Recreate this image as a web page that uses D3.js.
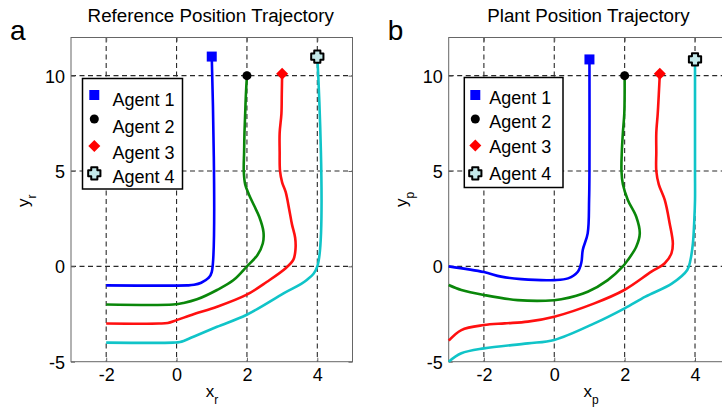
<!DOCTYPE html>
<html>
<head>
<meta charset="utf-8">
<script src="https://cdn.jsdelivr.net/npm/d3@7"></script>
<style>
  body { margin: 0; background: #fff; }
  svg { display: block; font-family: "Liberation Sans", Arial, sans-serif; }
  .grid-line { stroke: #2a2a2a; stroke-width: 1.1; stroke-dasharray: 5,3.5; fill: none; }
  .frame { stroke: #666; stroke-width: 1; fill: none; }
  .tick line { stroke: #666; }
  .tick text { font-size: 18px; fill: #000; }
  .traj { fill: none; stroke-width: 2.6; stroke-linejoin: round; }
</style>
</head>
<body>
<svg id="container"></svg>
<script>
// Two trajectory panels: reference (a) and plant (b)

var agents = ["Agent 1", "Agent 2", "Agent 3", "Agent 4"]
  , xTicks = [-2, 0, 2, 4]
  , yTicks = [-5, 0, 5, 10]
  , xDomain = [-3, 5]
  , yDomain = [-5, 12]
  ;

// Reference trajectories, [x, y] (marker end first)
var refAgent1 = [[1, 11], [1, -0.3], [0.9, -0.62], [0.7, -0.86], [0.5, -0.97], [0.3, -1], [-2, -1]];
var refAgent2 = [[2, 10], [1.97, 9], [1.95, 8], [1.93, 7], [1.92, 6], [1.91, 5], [1.95, 4.3], [2.05, 3.8],
                 [2.2, 3.2], [2.35, 2.6], [2.47, 1.8], [2.45, 1.2], [2.3, 0.6], [2.0, 0], [1.62, -0.72],
                 [1.15, -1.24], [0.58, -1.73], [0.2, -1.92], [-0.1, -2], [-2, -2]];
var refAgent3 = [[3, 10.1], [2.99, 9], [2.98, 8], [2.93, 7], [2.93, 6], [2.94, 5], [3.0, 4.4], [3.1, 3.9],
                 [3.2, 3.0], [3.28, 2.2], [3.37, 1.5], [3.38, 0.9], [3.32, 0.35], [3.1, -0.1], [2.57, -0.81],
                 [1.98, -1.5], [1.15, -2.12], [0.5, -2.5], [0, -2.82], [-0.25, -2.97], [-0.5, -3], [-2, -3]];
var refAgent4 = [[4, 11], [4, 0], [3.7, -0.72], [3.04, -1.42], [1.98, -2.55], [1.15, -3.17], [0.48, -3.69],
                 [0.1, -3.97], [-0.1, -4], [-2, -4]];

// Plant trajectories
var plantAgent1 = [[1, 10.85], [1, 5], [0.99, 3.5], [0.95, 1.73], [0.81, 0.86], [0.77, 0.2], [0.67, -0.28],
                   [0.39, -0.63], [0, -0.72], [-0.94, -0.67], [-1.51, -0.54], [-2, -0.3], [-3, 0]];
var plantAgent2 = [[2, 10], [2, 9], [1.99, 8], [1.95, 7], [1.92, 6], [1.91, 5], [1.95, 4.3], [2.09, 3.48],
                   [2.33, 2.6], [2.43, 1.73], [2.33, 1.03], [2.09, 0.33], [1.95, 0], [1.52, -0.72],
                   [0.95, -1.33], [0.2, -1.73], [0, -1.78], [-1.04, -1.77], [-2, -1.5], [-2.64, -1.24], [-3, -0.98]];
var plantAgent3 = [[3, 10.1], [2.97, 9], [2.94, 8], [2.9, 7], [2.9, 6], [2.9, 5], [2.97, 4.3], [3.14, 3.48],
                   [3.28, 2.25], [3.37, 1.2], [3.33, 0.68], [3.14, 0.16], [2.76, -0.28], [1.99, -1.24],
                   [1.14, -1.94], [0, -2.64], [-0.75, -2.9], [-1.41, -2.99], [-2, -3.08], [-2.64, -3.34], [-3, -3.9]];
var plantAgent4 = [[4, 10.85], [4, 5], [4, 3.48], [3.98, 2.43], [3.94, 1.2], [3.87, 0.33], [3.78, -0.19],
                   [3.35, -0.89], [2.59, -1.59], [2, -2.2], [1.14, -2.99], [0, -3.86], [-0.75, -4.04],
                   [-2, -4.3], [-2.64, -4.56], [-3, -5]];

var lineColors = ["#0000ff", "#0a870a", "#ff1010", "#10c4c8"];

// Plus-shaped marker for agent 4
var plusSymbol = {
  draw: function (ctx, size) {
    var a = Math.sqrt(size) / 2, b = a * 0.5;
    ctx.moveTo(-b, -a); ctx.lineTo(b, -a); ctx.lineTo(b, -b); ctx.lineTo(a, -b);
    ctx.lineTo(a, b); ctx.lineTo(b, b); ctx.lineTo(b, a); ctx.lineTo(-b, a);
    ctx.lineTo(-b, b); ctx.lineTo(-a, b); ctx.lineTo(-a, -b); ctx.lineTo(-b, -b);
    ctx.closePath();
  }
};
var markers = [
  { type: d3.symbolSquare, size: 100, fill: "#0000ff", stroke: "none", rot: 0 },
  { type: d3.symbolCircle, size: 64, fill: "#000", stroke: "none", rot: 0 },
  { type: d3.symbolSquare, size: 72, fill: "#ff0000", stroke: "none", rot: 45 },
  { type: plusSymbol, size: 150, fill: "#c4e9ea", stroke: "#000", rot: 0 }
];

var panels = [
  { left: 71, label: "a", title: "Reference Position Trajectory", sub: "r",
    data: [refAgent1, refAgent2, refAgent3, refAgent4],
    legend: { x: 82.5, y: 78.5, w: 100, h: 110.5, mx: 11.8, tx: 30, rows: [106, 132.6, 159.2, 182.6], my: [95, 119, 146, 173.3] } },
  { left: 448.7, label: "b", title: "Plant Position Trajectory", sub: "p",
    data: [plantAgent1, plantAgent2, plantAgent3, plantAgent4],
    legend: { x: 464.3, y: 77.5, w: 98.7, h: 110, mx: 11, tx: 25, rows: [104, 127.8, 153, 180], my: [95, 119, 145.5, 173.3] } }
];

var width = 722, height = 419
  , plotW = 281.5, plotTop = 37.5, plotBottom = 361.7
  , svg = d3.select("#container").attr("width", width).attr("height", height);

function drawPanel(p) {
  var x = d3.scaleLinear().domain(xDomain).range([p.left, p.left + plotW])
    , y = d3.scaleLinear().domain(yDomain).range([plotBottom, plotTop])
    , g = svg.append("g")
    , fmt = function (d) { return String(d); };   // plain hyphen minus like the original

  // Dashed grid
  g.selectAll(".gx").data(xTicks).enter().append("line")
   .attr("class", "grid-line")
   .attr("x1", function (d) { return x(d); }).attr("x2", function (d) { return x(d); })
   .attr("y1", plotTop).attr("y2", plotBottom);
  g.selectAll(".gy").data(yTicks.filter(function (d) { return d > yDomain[0]; })).enter().append("line")
   .attr("class", "grid-line")
   .attr("x1", p.left).attr("x2", p.left + plotW)
   .attr("y1", function (d) { return y(d); }).attr("y2", function (d) { return y(d); });

  // Axes with small inward ticks
  var ax = g.append("g").attr("transform", "translate(0," + plotBottom + ")")
            .call(d3.axisBottom(x).tickValues(xTicks).tickFormat(fmt).tickSizeInner(-4).tickSizeOuter(0).tickPadding(6));
  var ay = g.append("g").attr("transform", "translate(" + p.left + ",0)")
            .call(d3.axisLeft(y).tickValues(yTicks).tickFormat(fmt).tickSizeInner(-4).tickSizeOuter(0).tickPadding(6));
  g.append("g").attr("transform", "translate(0," + plotTop + ")")
   .call(d3.axisTop(x).tickValues(xTicks).tickSizeInner(-4).tickSizeOuter(0).tickFormat(""));
  g.append("g").attr("transform", "translate(" + (p.left + plotW) + ",0)")
   .call(d3.axisRight(y).tickValues(yTicks).tickSizeInner(-4).tickSizeOuter(0).tickFormat(""));
  g.selectAll(".domain").remove();
  g.selectAll(".tick text").attr("font-family", null).attr("font-size", null);
  ax.selectAll("text").attr("dy", "0.72em");
  ay.selectAll("text").attr("dy", "0.36em");

  g.append("rect").attr("class", "frame")
   .attr("x", p.left).attr("y", plotTop).attr("width", plotW).attr("height", plotBottom - plotTop);

  // Trajectories
  var line = d3.line()
               .x(function (d) { return x(d[0]); })
               .y(function (d) { return y(d[1]); })
               .curve(d3.curveCatmullRom.alpha(0.5));
  p.data.forEach(function (pts, i) {
    g.append("path").attr("class", "traj").attr("stroke", lineColors[i]).attr("d", line(pts));
  });
  p.data.forEach(function (pts, i) {
    drawMarker(g, i, x(pts[0][0]), y(pts[0][1]));
  });

  // Legend
  var L = p.legend;
  g.append("rect").attr("x", L.x).attr("y", L.y).attr("width", L.w).attr("height", L.h)
   .attr("fill", "#fff").attr("stroke", "#000").attr("stroke-width", 1.5);
  agents.forEach(function (name, i) {
    drawMarker(g, i, L.x + L.mx, L.my[i]);
    g.append("text").attr("x", L.x + L.tx).attr("y", L.rows[i])
     .attr("font-size", 18).text(name);
  });

  // Titles and labels
  var cx = p.left + plotW / 2;
  g.append("text").attr("x", cx - 1).attr("y", 22).attr("text-anchor", "middle")
   .attr("font-size", 18.8).text(p.title);
  g.append("text").attr("x", p.left - 61).attr("y", 40).attr("font-size", 28).text(p.label);

  var xl = g.append("text").attr("x", cx - 6).attr("y", 397).attr("font-size", 17);
  xl.append("tspan").text("x");
  xl.append("tspan").attr("dy", 7).attr("font-size", 12).text(p.sub);

  var yl = g.append("text").attr("transform", "translate(" + (p.left - 42) + "," + 207 + ") rotate(-90)")
            .attr("font-size", 17);
  yl.append("tspan").text("y");
  yl.append("tspan").attr("dy", 7).attr("font-size", 12).text(p.sub);
}

function drawMarker(g, i, cx, cy) {
  var m = markers[i];
  g.append("path")
   .attr("d", d3.symbol().type(m.type).size(m.size)())
   .attr("transform", "translate(" + cx + "," + cy + ") rotate(" + m.rot + ")")
   .attr("fill", m.fill)
   .attr("stroke", m.stroke)
   .attr("stroke-width", 2)
   .attr("stroke-linejoin", "round");
}

panels.forEach(drawPanel);
</script>
</body>
</html>
